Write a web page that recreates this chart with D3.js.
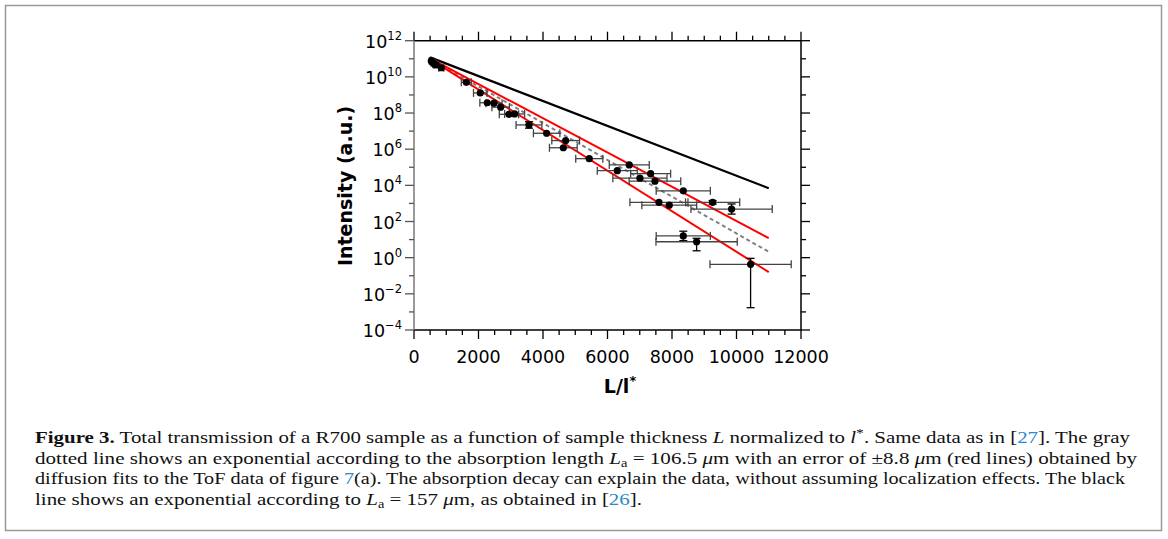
<!DOCTYPE html>
<html lang="en">
  <head>
    <meta charset="utf-8">
    <title>Figure 3 - total transmission vs L/l*</title>
    <script src="https://d3js.org/d3.v7.min.js"></script>
    <style>
      body { margin: 0; background: #fff; }
      svg text { font-family: "DejaVu Sans", Verdana, sans-serif; }
      .caption text { font-family: "Liberation Serif", "Times New Roman", serif; }
    </style>
  </head>
  <body>
    <div id="chart"></div>
    <script>
      // measured points: L/l*, intensity, horizontal error (L/l*), vertical error (decades below / above)
      var lx     = [537, 589, 641, 691, 846, 1622, 2055, 2272, 2480, 2687, 2945, 3120, 3565, 4113, 4630,
                    4703, 5435, 6303, 6675, 7006, 7337, 7471, 8350, 7595, 7915, 9260, 9848, 8350, 8763, 10437];
      var inten  = [7.6e10, 6.0e10, 5.1e10, 4.6e10, 3.2e10, 5.0e9, 1.3e9, 3.7e8, 3.5e8, 2.1e8, 8.5e7, 8.9e7,
                    2.2e7, 7.6e6, 1.2e6, 3.0e6, 3.0e5, 6.5e4, 1.35e5, 2.5e4, 4.4e4, 1.7e4, 5.0e3, 1.15e3,
                    8.0e2, 1.15e3, 4.9e2, 16, 7.6, 0.43];
      var xErr   = [60, 60, 60, 70, 80, 155, 210, 230, 250, 270, 300, 310, 400, 410, 430,
                    430, 420, 620, 620, 840, 620, 800, 840, 900, 850, 840, 1260, 840, 1260, 1260];
      var yErrLo = [0, 0, 0, 0, 0, 0, 0, 0, 0, 0, 0, 0, 0.18, 0, 0,
                    0, 0, 0, 0, 0, 0, 0, 0, 0, 0, 0.1, 0.28, 0.26, 0.5, 2.4];
      var yErrHi = [0, 0, 0, 0, 0, 0, 0, 0, 0, 0, 0, 0, 0.18, 0, 0,
                    0, 0, 0, 0, 0, 0, 0, 0, 0, 0, 0.1, 0.28, 0.26, 0.19, 0.33];

      // exponential decays (straight on log axis), end points
      var blackLine = [[500, 1.2e11], [11000, 6.9e3]];
      var redUpper  = [[500, 1.05e11], [11000, 12]];
      var redLower  = [[500, 0.95e11], [11000, 0.16]];
      var grayLine  = [[500, 1.0e11], [11000, 2.1]];

      var xTicks = [0, 2000, 4000, 6000, 8000, 10000, 12000];
      var yExps  = [12, 10, 8, 6, 4, 2, 0, -2, -4];

      var svg = d3.select("#chart").append("svg")
        .attr("width", 1168).attr("height", 539);

      // figure frame
      svg.append("rect")
        .attr("x", 5.5).attr("y", 5.5).attr("width", 1156).attr("height", 525)
        .attr("fill", "none").attr("stroke", "#999").attr("stroke-width", 1.5);

      var x = d3.scaleLinear().domain([0, 12000]).range([414, 801]);
      var y = d3.scaleLog().domain([1e-4, 1e12]).range([330, 40.7]);

      var minorX = d3.range(0, 12001, 500);
      var minorY = d3.range(-4, 13, 1).map(function (e) { return Math.pow(10, e); });

      function tickLen(isMajor) { return isMajor ? 9 : 5; }

      // axes (ticks only, labels drawn separately)
      var g = svg.append("g");
      [["bottom", 330, 1], ["top", 40.7, -1]].forEach(function (a) {
        var ax = g.append("g");
        ax.append("line").attr("x1", 414).attr("x2", 801).attr("y1", a[1]).attr("y2", a[1])
          .attr("stroke", "#000").attr("stroke-width", 1.5);
        ax.selectAll("line.t").data(minorX).enter().append("line").attr("class", "t")
          .attr("x1", function (d) { return x(d); }).attr("x2", function (d) { return x(d); })
          .attr("y1", a[1])
          .attr("y2", function (d) { return a[1] + a[2] * tickLen(d % 2000 === 0); })
          .attr("stroke", "#000").attr("stroke-width", 1.3);
      });
      [["left", 414, -1, "#777"], ["right", 801, 1, "#000"]].forEach(function (a) {
        var ax = g.append("g");
        ax.append("line").attr("x1", a[1]).attr("x2", a[1]).attr("y1", 40.7).attr("y2", 330)
          .attr("stroke", a[3]).attr("stroke-width", 1.5);
        ax.selectAll("line.t").data(minorY).enter().append("line").attr("class", "t")
          .attr("y1", function (d) { return y(d); }).attr("y2", function (d) { return y(d); })
          .attr("x1", a[1])
          .attr("x2", function (d) {
            var e = Math.round(Math.log10(d));
            return a[1] + a[2] * tickLen(e % 2 === 0);
          })
          .attr("stroke", a[3] === "#777" ? "#555" : "#000").attr("stroke-width", 1.3);
      });

      // tick labels
      svg.selectAll("text.xt").data(xTicks).enter().append("text").attr("class", "xt")
        .attr("x", function (d) { return x(d); }).attr("y", 363)
        .attr("text-anchor", "middle").attr("font-size", 17.5)
        .text(function (d) { return d; });

      var yl = svg.selectAll("text.yt").data(yExps).enter().append("text").attr("class", "yt")
        .attr("x", 402).attr("y", function (d) { return y(Math.pow(10, d)) + 7; })
        .attr("text-anchor", "end").attr("font-size", 17.5);
      yl.append("tspan").text("10");
      yl.append("tspan").attr("dy", -8).attr("font-size", 11.5)
        .text(function (d) { return d < 0 ? "\u2212" + (-d) : d; });

      // axis titles
      var xt = svg.append("text").attr("x", 620).attr("y", 393)
        .attr("text-anchor", "middle").attr("font-size", 19).attr("font-weight", "bold");
      xt.append("tspan").text("L/l");
      xt.append("tspan").attr("dy", -8).attr("font-size", 13).text("*");

      svg.append("text")
        .attr("transform", "translate(352,186) rotate(-90)")
        .attr("text-anchor", "middle").attr("font-size", 19).attr("font-weight", "bold")
        .text("Intensity (a.u.)");

      // model lines
      var line = d3.line().x(function (d) { return x(d[0]); }).y(function (d) { return y(d[1]); });
      svg.append("path").datum(blackLine).attr("d", line)
        .attr("fill", "none").attr("stroke", "#000").attr("stroke-width", 2.2);
      svg.append("path").datum(grayLine).attr("d", line)
        .attr("fill", "none").attr("stroke", "#808080").attr("stroke-width", 2)
        .attr("stroke-dasharray", "4,3");
      [redUpper, redLower].forEach(function (r) {
        svg.append("path").datum(r).attr("d", line)
          .attr("fill", "none").attr("stroke", "#ff0000").attr("stroke-width", 2);
      });

      // error bars + points
      var pts = lx.map(function (v, i) {
        return { x: v, y: inten[i], dx: xErr[i], lo: yErrLo[i], hi: yErrHi[i] };
      });
      var eb = svg.append("g");
      pts.forEach(function (p) {
        var cy = y(p.y), x0 = x(p.x - p.dx), x1 = x(p.x + p.dx);
        eb.append("line").attr("x1", x0).attr("x2", x1).attr("y1", cy).attr("y2", cy)
          .attr("stroke", "#444").attr("stroke-width", 1.3);
        [x0, x1].forEach(function (cx) {
          eb.append("line").attr("x1", cx).attr("x2", cx).attr("y1", cy - 4).attr("y2", cy + 4)
            .attr("stroke", "#444").attr("stroke-width", 1.3);
        });
        if (p.lo > 0 || p.hi > 0) {
          var ylo = y(p.y / Math.pow(10, p.lo)), yhi = y(p.y * Math.pow(10, p.hi));
          eb.append("line").attr("x1", x(p.x)).attr("x2", x(p.x)).attr("y1", yhi).attr("y2", ylo)
            .attr("stroke", "#000").attr("stroke-width", 1.3);
          [yhi, ylo].forEach(function (cyy) {
            eb.append("line").attr("x1", x(p.x) - 4).attr("x2", x(p.x) + 4)
              .attr("y1", cyy).attr("y2", cyy).attr("stroke", "#000").attr("stroke-width", 1.3);
          });
        }
      });
      svg.append("g").selectAll("circle").data(pts).enter().append("circle")
        .attr("cx", function (d) { return x(d.x); }).attr("cy", function (d) { return y(d.y); })
        .attr("r", 3.6).attr("fill", "#000");

      // caption
      var cap = svg.append("g").attr("class", "caption");
      var fs = 17.5, cx0 = 35;
      function capLine(yy, width, parts) {
        var t = cap.append("text").attr("x", cx0).attr("y", yy).attr("font-size", fs).attr("fill", "#111")
          .attr("textLength", width).attr("lengthAdjust", "spacingAndGlyphs");
        parts.forEach(function (p) {
          var s = t.append("tspan").text(p.t);
          if (p.b) s.attr("font-weight", "bold");
          if (p.i) s.attr("font-style", "italic");
          if (p.c) s.attr("fill", "#2a8ac7");
          if (p.dy) s.attr("dy", p.dy);
          if (p.fs) s.attr("font-size", p.fs);
        });
      }
      capLine(443, 1095, [
        { t: "Figure 3.", b: true },
        { t: " Total transmission of a R700 sample as a function of sample thickness " },
        { t: "L", i: true },
        { t: " normalized to " },
        { t: "l", i: true },
        { t: "*", dy: -6, fs: 13 },
        { t: ". Same data as in [", dy: 6 },
        { t: "27", c: true },
        { t: "]. The gray" }
      ]);
      capLine(463.5, 1102, [
        { t: "dotted line shows an exponential according to the absorption length  " },
        { t: "L", i: true },
        { t: "a", dy: 3, fs: 12 },
        { t: "  =  106.5 ", dy: -3 },
        { t: "\u03bc", i: true },
        { t: "m with an error of \u00b18.8 " },
        { t: "\u03bc", i: true },
        { t: "m (red lines) obtained by" }
      ]);
      capLine(484, 1090, [
        { t: "diffusion fits to the ToF data of figure " },
        { t: "7", c: true },
        { t: "(a). The absorption decay can explain the data, without assuming localization effects. The black" }
      ]);
      capLine(504.5, 607, [
        { t: "line shows an exponential according to " },
        { t: "L", i: true },
        { t: "a", dy: 3, fs: 12 },
        { t: "  =  157 ", dy: -3 },
        { t: "\u03bc", i: true },
        { t: "m, as obtained in [" },
        { t: "26", c: true },
        { t: "]." }
      ]);
    </script>
  </body>
</html>
